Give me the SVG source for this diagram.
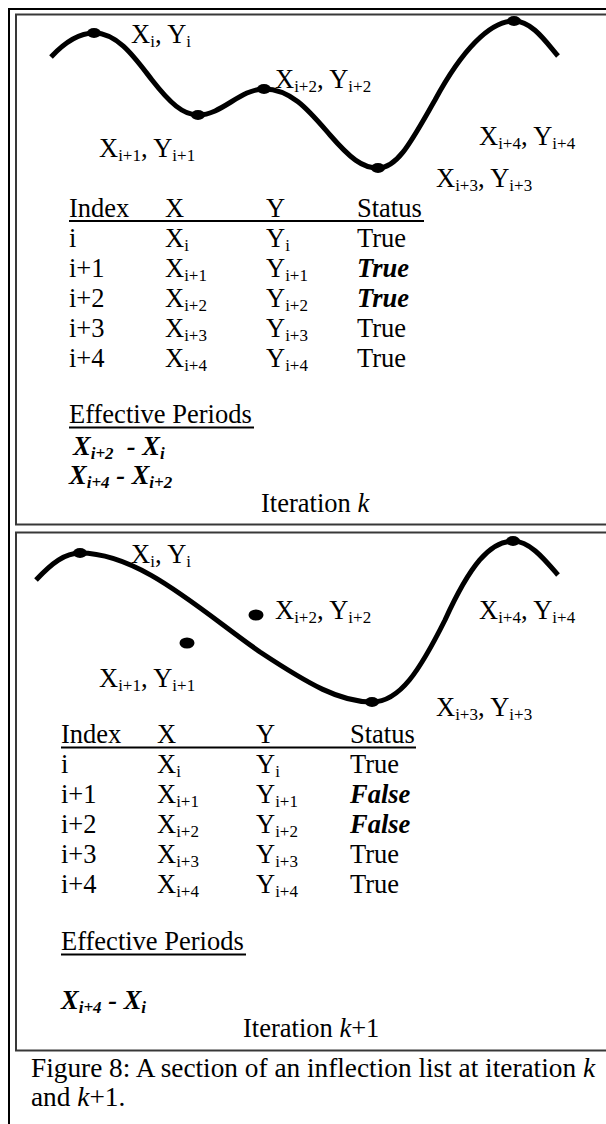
<svg xmlns="http://www.w3.org/2000/svg" width="606" height="1124" viewBox="0 0 606 1124">
<style>
text{font-family:"Liberation Serif","Times New Roman",serif;font-size:26.5px;fill:#000}
.s{font-size:17px}
.bi{font-weight:bold;font-style:italic}
.it{font-style:italic}
.cap{font-size:27.3px}
.curve{fill:none;stroke:#000;stroke-width:5;stroke-linecap:butt;stroke-linejoin:round}
.frame{fill:none;stroke:#000;stroke-width:2}
.panel{fill:none;stroke:#383838;stroke-width:2}
.ul{stroke:#000;stroke-width:2}
</style>
<rect width="606" height="1124" fill="#fff"/>
<g id="frame">
<path class="frame" d="M9,1130 V9 H620"/>
<rect class="panel" x="16" y="14.5" width="610" height="510"/>
<rect class="panel" x="16" y="532.5" width="610" height="518"/>
</g>

<g id="panel-k">
<path class="curve" d="M51,57 C65,42 80,33 94,33 C118,33 135,58 152,80 C170,103 183,115 198,115 C222,115 240,89 264,89 C292,89 310,112 330,135 C350,158 362,168 378,168 C398,168 412,140 435,100 C462,50 490,21 514,21 C532,21 546,42 558,56"/>
<g fill="#000">
<ellipse cx="94" cy="33" rx="7" ry="5"/>
<ellipse cx="198" cy="115" rx="7" ry="5"/>
<ellipse cx="264" cy="89" rx="7" ry="5"/>
<ellipse cx="378" cy="168" rx="7" ry="5"/>
<ellipse cx="514" cy="21" rx="7" ry="5"/>
</g>
<text x="131" y="43">X<tspan class="s" dy="4">i</tspan><tspan dy="-4">, Y</tspan><tspan class="s" dy="4">i</tspan></text>
<text x="275" y="88">X<tspan class="s" dy="4">i+2</tspan><tspan dy="-4">, Y</tspan><tspan class="s" dy="4">i+2</tspan></text>
<text x="479" y="145">X<tspan class="s" dy="4">i+4</tspan><tspan dy="-4">, Y</tspan><tspan class="s" dy="4">i+4</tspan></text>
<text x="99" y="157">X<tspan class="s" dy="4">i+1</tspan><tspan dy="-4">, Y</tspan><tspan class="s" dy="4">i+1</tspan></text>
<text x="436" y="187">X<tspan class="s" dy="4">i+3</tspan><tspan dy="-4">, Y</tspan><tspan class="s" dy="4">i+3</tspan></text>

<text x="69" y="217">Index</text><text x="165" y="217">X</text><text x="266" y="217">Y</text><text x="357" y="217">Status</text>
<line class="ul" x1="69" y1="221" x2="424" y2="221"/>
<text x="69" y="247">i</text><text x="165" y="247">X<tspan class="s" dy="4">i</tspan></text><text x="266" y="247">Y<tspan class="s" dy="4">i</tspan></text><text x="357" y="247">True</text>
<text x="69" y="277">i+1</text><text x="165" y="277">X<tspan class="s" dy="4">i+1</tspan></text><text x="266" y="277">Y<tspan class="s" dy="4">i+1</tspan></text><text class="bi" x="357" y="277">True</text>
<text x="69" y="307">i+2</text><text x="165" y="307">X<tspan class="s" dy="4">i+2</tspan></text><text x="266" y="307">Y<tspan class="s" dy="4">i+2</tspan></text><text class="bi" x="357" y="307">True</text>
<text x="69" y="337">i+3</text><text x="165" y="337">X<tspan class="s" dy="4">i+3</tspan></text><text x="266" y="337">Y<tspan class="s" dy="4">i+3</tspan></text><text x="357" y="337">True</text>
<text x="69" y="367">i+4</text><text x="165" y="367">X<tspan class="s" dy="4">i+4</tspan></text><text x="266" y="367">Y<tspan class="s" dy="4">i+4</tspan></text><text x="357" y="367">True</text>

<text x="69" y="423">Effective Periods</text>
<line class="ul" x1="69" y1="427.5" x2="254" y2="427.5"/>
<text class="bi" x="73" y="455" xml:space="preserve">X<tspan class="s" dy="4">i+2</tspan><tspan dy="-4">  - X</tspan><tspan class="s" dy="4">i</tspan></text>
<text class="bi" x="69" y="484" xml:space="preserve">X<tspan class="s" dy="4">i+4</tspan><tspan dy="-4"> - X</tspan><tspan class="s" dy="4">i+2</tspan></text>
<text x="261" y="512">Iteration <tspan class="it">k</tspan></text>
</g>

<g id="panel-k1">
<path class="curve" d="M36,580 C52,563 65,553 80,553 C140,553 200,610 260,652 C310,685 340,702 372,702 C400,702 420,670 445,620 C470,565 490,541 513,541 C530,541 545,560 558,575"/>
<g fill="#000">
<ellipse cx="80" cy="553" rx="7" ry="5"/>
<ellipse cx="372" cy="702" rx="7" ry="5"/>
<ellipse cx="513" cy="541" rx="7" ry="5"/>
<ellipse cx="187" cy="643" rx="7.5" ry="5.5"/>
<ellipse cx="256" cy="615" rx="7.5" ry="5.5"/>
</g>
<text x="131" y="563">X<tspan class="s" dy="4">i</tspan><tspan dy="-4">, Y</tspan><tspan class="s" dy="4">i</tspan></text>
<text x="275" y="619">X<tspan class="s" dy="4">i+2</tspan><tspan dy="-4">, Y</tspan><tspan class="s" dy="4">i+2</tspan></text>
<text x="479" y="619">X<tspan class="s" dy="4">i+4</tspan><tspan dy="-4">, Y</tspan><tspan class="s" dy="4">i+4</tspan></text>
<text x="99" y="687">X<tspan class="s" dy="4">i+1</tspan><tspan dy="-4">, Y</tspan><tspan class="s" dy="4">i+1</tspan></text>
<text x="436" y="716">X<tspan class="s" dy="4">i+3</tspan><tspan dy="-4">, Y</tspan><tspan class="s" dy="4">i+3</tspan></text>

<text x="61" y="743">Index</text><text x="157" y="743">X</text><text x="256" y="743">Y</text><text x="350" y="743">Status</text>
<line class="ul" x1="61" y1="747.5" x2="416" y2="747.5"/>
<text x="61" y="773">i</text><text x="157" y="773">X<tspan class="s" dy="4">i</tspan></text><text x="256" y="773">Y<tspan class="s" dy="4">i</tspan></text><text x="350" y="773">True</text>
<text x="61" y="803">i+1</text><text x="157" y="803">X<tspan class="s" dy="4">i+1</tspan></text><text x="256" y="803">Y<tspan class="s" dy="4">i+1</tspan></text><text class="bi" x="350" y="803">False</text>
<text x="61" y="833">i+2</text><text x="157" y="833">X<tspan class="s" dy="4">i+2</tspan></text><text x="256" y="833">Y<tspan class="s" dy="4">i+2</tspan></text><text class="bi" x="350" y="833">False</text>
<text x="61" y="863">i+3</text><text x="157" y="863">X<tspan class="s" dy="4">i+3</tspan></text><text x="256" y="863">Y<tspan class="s" dy="4">i+3</tspan></text><text x="350" y="863">True</text>
<text x="61" y="893">i+4</text><text x="157" y="893">X<tspan class="s" dy="4">i+4</tspan></text><text x="256" y="893">Y<tspan class="s" dy="4">i+4</tspan></text><text x="350" y="893">True</text>

<text x="61" y="950">Effective Periods</text>
<line class="ul" x1="61" y1="954.5" x2="246" y2="954.5"/>
<text class="bi" x="61" y="1009" xml:space="preserve">X<tspan class="s" dy="4">i+4</tspan><tspan dy="-4"> - X</tspan><tspan class="s" dy="4">i</tspan></text>
<text x="243" y="1037">Iteration <tspan class="it">k</tspan>+1</text>
</g>

<g id="caption">
<text class="cap" x="31" y="1077">Figure 8: A section of an inflection list at iteration <tspan class="it">k</tspan></text>
<text class="cap" x="31" y="1106">and <tspan class="it">k</tspan>+1.</text>
</g>
</svg>
